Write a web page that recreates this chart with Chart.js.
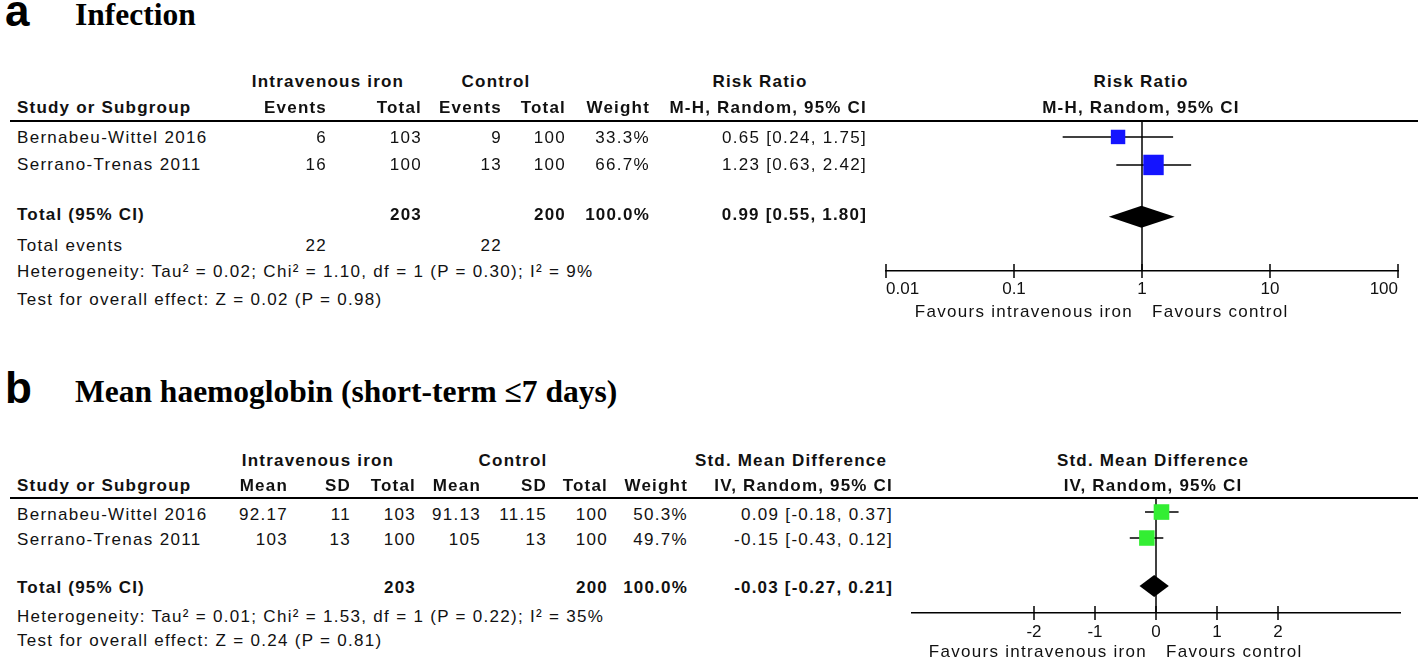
<!DOCTYPE html>
<html>
<head>
<meta charset="utf-8">
<script src="https://cdn.jsdelivr.net/npm/chart.js@4.4.1/dist/chart.umd.min.js"></script>
<style>
  html, body { margin: 0; padding: 0; background: #fff; }
  #page { position: relative; width: 1418px; height: 660px; overflow: hidden; background: #fff; }
  .t { position: absolute; white-space: nowrap; font-family: "Liberation Sans", Arial, sans-serif;
       font-size: 17px; line-height: 20px; color: #111; letter-spacing: 1.3px; }
  .b { font-weight: bold; letter-spacing: 1.2px; }
  .rule { position: absolute; height: 2px; background: #000; }
  canvas { position: absolute; }
</style>
</head>
<body>
<div id="page">
  <canvas id="plotA" width="558" height="240" style="left:860px; top:100px;"></canvas>
  <canvas id="plotB" width="518" height="180" style="left:900px; top:480px;"></canvas>
</div>
<script>
// ---- panel a: infection (risk ratio) ----
const studiesA = ['Bernabeu-Wittel 2016', 'Serrano-Trenas 2011'];
const ivEventsA = [6, 16];
const ivTotalA = [103, 100];
const ctlEventsA = [9, 13];
const ctlTotalA = [100, 100];
const weightA = [33.3, 66.7];
const rrA = [0.65, 1.23];
const rrLowA = [0.24, 0.63];
const rrHighA = [1.75, 2.42];
const pooledA = [0.99, 0.55, 1.80];      // estimate, low, high
const sumTotalsA = [203, 200];
const sumEventsA = [22, 22];
const ticksA = [0.01, 0.1, 1, 10, 100];

// ---- panel b: mean haemoglobin (std. mean difference) ----
const studiesB = ['Bernabeu-Wittel 2016', 'Serrano-Trenas 2011'];
const ivMeanB = [92.17, 103];
const ivSdB = [11, 13];
const ivTotalB = [103, 100];
const ctlMeanB = [91.13, 105];
const ctlSdB = [11.15, 13];
const ctlTotalB = [100, 100];
const weightB = [50.3, 49.7];
const smdB = [0.09, -0.15];
const smdLowB = [-0.18, -0.43];
const smdHighB = [0.37, 0.12];
const pooledB = [-0.03, -0.27, 0.21];
const sumTotalsB = [203, 200];
const ticksB = [-2, -1, 0, 1, 2];

const page = document.getElementById('page');
const FONT = '"Liberation Sans", Arial, sans-serif';

// text helper: y is the visual centre of the line
function text(str, x, y, align, bold) {
    const d = document.createElement('div');
    d.className = bold ? 't b' : 't';
    d.textContent = str;
    d.style.top = (y - 10) + 'px';
    if (align === 'right') {
        d.style.right = (1418 - x) + 'px';
    } else if (align === 'center') {
        d.style.left = (x - 400) + 'px';
        d.style.width = '800px';
        d.style.textAlign = 'center';
    } else {
        d.style.left = x + 'px';
    }
    page.appendChild(d);
}

function rule(x, y, w) {
    const d = document.createElement('div');
    d.className = 'rule';
    d.style.left = x + 'px';
    d.style.top = y + 'px';
    d.style.width = w + 'px';
    page.appendChild(d);
}

function title(letter, str, baseline) {
    const l = document.createElement('div');
    l.style.cssText = `position:absolute;left:5px;top:${baseline - 37}px;font:bold 44px/44px ${FONT};color:#000;`;
    l.textContent = letter;
    page.appendChild(l);
    const s = document.createElement('div');
    s.style.cssText = `position:absolute;left:75px;top:${baseline - 26}px;font:bold 31.5px/30px "Liberation Serif","Times New Roman",serif;color:#000;white-space:nowrap;`;
    s.textContent = str;
    page.appendChild(s);
}

const f2 = v => v.toFixed(2);
const ci = (e, lo, hi) => `${f2(e)} [${f2(lo)}, ${f2(hi)}]`;

// ---- table a ----
title('a', 'Infection', 26);
text('Intravenous iron', 328, 82, 'center', true);
text('Control', 496, 82, 'center', true);
text('Risk Ratio', 760, 82, 'center', true);
text('Risk Ratio', 1141, 82, 'center', true);
text('Study or Subgroup', 17, 108, 'left', true);
text('Events', 327, 108, 'right', true);
text('Total', 422, 108, 'right', true);
text('Events', 502, 108, 'right', true);
text('Total', 566, 108, 'right', true);
text('Weight', 650, 108, 'right', true);
text('M-H, Random, 95% CI', 867, 108, 'right', true);
text('M-H, Random, 95% CI', 1141, 108, 'center', true);
rule(10, 120, 1408);
const rowYA = [138, 165];
studiesA.forEach((s, i) => {
    const y = rowYA[i];
    text(s, 17, y);
    text(String(ivEventsA[i]), 327, y, 'right');
    text(String(ivTotalA[i]), 422, y, 'right');
    text(String(ctlEventsA[i]), 502, y, 'right');
    text(String(ctlTotalA[i]), 566, y, 'right');
    text(weightA[i].toFixed(1) + '%', 650, y, 'right');
    text(ci(rrA[i], rrLowA[i], rrHighA[i]), 867, y, 'right');
});
text('Total (95% CI)', 17, 215, 'left', true);
text(String(sumTotalsA[0]), 422, 215, 'right', true);
text(String(sumTotalsA[1]), 566, 215, 'right', true);
text(weightA.reduce((a, b) => a + b, 0).toFixed(1) + '%', 650, 215, 'right', true);
text(ci(pooledA[0], pooledA[1], pooledA[2]), 867, 215, 'right', true);
text('Total events', 17, 246);
text(String(sumEventsA[0]), 327, 246, 'right');
text(String(sumEventsA[1]), 502, 246, 'right');
text('Heterogeneity: Tau² = 0.02; Chi² = 1.10, df = 1 (P = 0.30); I² = 9%', 17, 272);
text('Test for overall effect: Z = 0.02 (P = 0.98)', 17, 300);

// ---- table b ----
title('b', 'Mean haemoglobin (short-term ≤7 days)', 403);
text('Intravenous iron', 318, 461, 'center', true);
text('Control', 513, 461, 'center', true);
text('Std. Mean Difference', 791, 461, 'center', true);
text('Std. Mean Difference', 1153, 461, 'center', true);
text('Study or Subgroup', 17, 486, 'left', true);
text('Mean', 288, 486, 'right', true);
text('SD', 351, 486, 'right', true);
text('Total', 416, 486, 'right', true);
text('Mean', 481, 486, 'right', true);
text('SD', 547, 486, 'right', true);
text('Total', 608, 486, 'right', true);
text('Weight', 688, 486, 'right', true);
text('IV, Random, 95% CI', 893, 486, 'right', true);
text('IV, Random, 95% CI', 1153, 486, 'center', true);
rule(10, 497, 1408);
const rowYB = [515, 540];
studiesB.forEach((s, i) => {
    const y = rowYB[i];
    text(s, 17, y);
    text(String(ivMeanB[i]), 288, y, 'right');
    text(String(ivSdB[i]), 351, y, 'right');
    text(String(ivTotalB[i]), 416, y, 'right');
    text(String(ctlMeanB[i]), 481, y, 'right');
    text(String(ctlSdB[i]), 547, y, 'right');
    text(String(ctlTotalB[i]), 608, y, 'right');
    text(weightB[i].toFixed(1) + '%', 688, y, 'right');
    text(ci(smdB[i], smdLowB[i], smdHighB[i]), 893, y, 'right');
});
text('Total (95% CI)', 17, 588, 'left', true);
text(String(sumTotalsB[0]), 416, 588, 'right', true);
text(String(sumTotalsB[1]), 608, 588, 'right', true);
text(weightB.reduce((a, b) => a + b, 0).toFixed(1) + '%', 688, 588, 'right', true);
text(ci(pooledB[0], pooledB[1], pooledB[2]), 893, 588, 'right', true);
text('Heterogeneity: Tau² = 0.01; Chi² = 1.53, df = 1 (P = 0.22); I² = 35%', 17, 617);
text('Test for overall effect: Z = 0.24 (P = 0.81)', 17, 641);

// ---- forest plot plugin: null line, diamond, tick marks, favours labels ----
const forestPlugin = {
    id: 'forest',
    beforeDatasetsDraw(chart, args, opts) {
        const { ctx, chartArea, scales: { x } } = chart;
        const px = x.getPixelForValue(opts.nullValue);
        ctx.save();
        ctx.strokeStyle = '#000';
        ctx.lineWidth = 1.5;
        ctx.beginPath();
        ctx.moveTo(px, chartArea.top);
        ctx.lineTo(px, chartArea.bottom);
        ctx.stroke();
        ctx.restore();
    },
    afterDatasetsDraw(chart, args, opts) {
        const { ctx, scales: { x, y } } = chart;
        const [est, lo, hi] = opts.pooled;
        const cy = y.getPixelForValue(opts.pooledRow);
        const h = opts.diamondHalf;
        ctx.save();
        ctx.fillStyle = '#000';
        ctx.beginPath();
        ctx.moveTo(x.getPixelForValue(lo), cy);
        ctx.lineTo(x.getPixelForValue(est), cy - h);
        ctx.lineTo(x.getPixelForValue(hi), cy);
        ctx.lineTo(x.getPixelForValue(est), cy + h);
        ctx.closePath();
        ctx.fill();
        ctx.restore();
    },
    afterDraw(chart, args, opts) {
        const { ctx, chartArea, scales: { x } } = chart;
        const ay = chartArea.bottom;
        ctx.save();
        ctx.strokeStyle = '#000';
        ctx.lineWidth = 1.5;
        x.ticks.forEach(t => {
            const px = x.getPixelForValue(t.value);
            ctx.beginPath();
            ctx.moveTo(px, ay - 7);
            ctx.lineTo(px, ay + 7);
            ctx.stroke();
        });
        const nx = x.getPixelForValue(opts.nullValue);
        ctx.fillStyle = '#111';
        ctx.font = '17px ' + FONT;
        ctx.letterSpacing = '1.3px';
        ctx.textBaseline = 'middle';
        ctx.textAlign = 'right';
        ctx.fillText('Favours intravenous iron', nx - 9, ay + opts.favoursGap);
        ctx.textAlign = 'left';
        ctx.fillText('Favours control', nx + 10, ay + opts.favoursGap);
        ctx.restore();
    }
};

function forestChart(id, cfg) {
    const n = cfg.est.length;
    const whiskers = cfg.est.map((e, i) => ({
        type: 'scatter',
        showLine: true,
        data: [{ x: cfg.low[i], y: i + 1 }, { x: cfg.high[i], y: i + 1 }],
        borderColor: '#000',
        borderWidth: 1.5,
        pointRadius: 0,
        order: 2
    }));
    const squares = {
        type: 'scatter',
        data: cfg.est.map((e, i) => ({ x: e, y: i + 1 })),
        pointStyle: 'rect',
        pointRadius: cfg.weight.map(w => cfg.sizeK * Math.sqrt(w) / (2 * Math.SQRT1_2)),
        backgroundColor: cfg.color,
        borderWidth: 0,
        order: 1
    };
    return new Chart(document.getElementById(id), {
        type: 'scatter',
        data: { datasets: [squares, ...whiskers] },
        options: {
            responsive: false,
            animation: false,
            devicePixelRatio: 1,
            events: [],
            layout: { padding: cfg.padding },
            plugins: {
                legend: { display: false },
                tooltip: { enabled: false },
                forest: {
                    nullValue: cfg.nullValue,
                    pooled: cfg.pooled,
                    pooledRow: n + 1.85,
                    diamondHalf: 11,
                    favoursGap: cfg.favoursGap
                }
            },
            scales: {
                x: {
                    type: cfg.xType,
                    min: cfg.xMin,
                    max: cfg.xMax,
                    afterBuildTicks: s => { s.ticks = cfg.ticks.map(v => ({ value: v })); },
                    afterFit: s => { s.height = cfg.axisHeight; },
                    grid: { display: false, drawTicks: false },
                    border: { display: true, color: '#000', width: 1.5 },
                    ticks: {
                        align: cfg.tickAlign,
                        padding: cfg.tickPad,
                        maxRotation: 0,
                        autoSkip: false,
                        color: '#111',
                        font: { family: FONT, size: 17 },
                        callback: v => String(v)
                    }
                },
                y: {
                    type: 'linear',
                    display: false,
                    reverse: true,
                    min: cfg.yMin,
                    max: cfg.yMax
                }
            }
        },
        plugins: [forestPlugin]
    });
}

forestChart('plotA', {
    est: rrA, low: rrLowA, high: rrHighA, weight: weightA, pooled: pooledA,
    ticks: ticksA, xType: 'logarithmic', xMin: 0.01, xMax: 100, nullValue: 1,
    color: '#1414ff', sizeK: 2.5, tickAlign: 'inner', tickPad: 8,
    padding: { top: 21, left: 26, right: 20, bottom: 0 }, axisHeight: 69,
    yMin: 0.43, yMax: 5.79, favoursGap: 41
});

forestChart('plotB', {
    est: smdB, low: smdLowB, high: smdHighB, weight: weightB, pooled: pooledB,
    ticks: ticksB, xType: 'linear', xMin: -4, xMax: 4, nullValue: 0,
    color: '#33ee33', sizeK: 2.2, tickAlign: 'center', tickPad: 9,
    padding: { top: 18, left: 12, right: 18, bottom: 0 }, axisHeight: 47,
    yMin: 0.46, yMax: 4.885, favoursGap: 39
});
</script>
</body>
</html>
